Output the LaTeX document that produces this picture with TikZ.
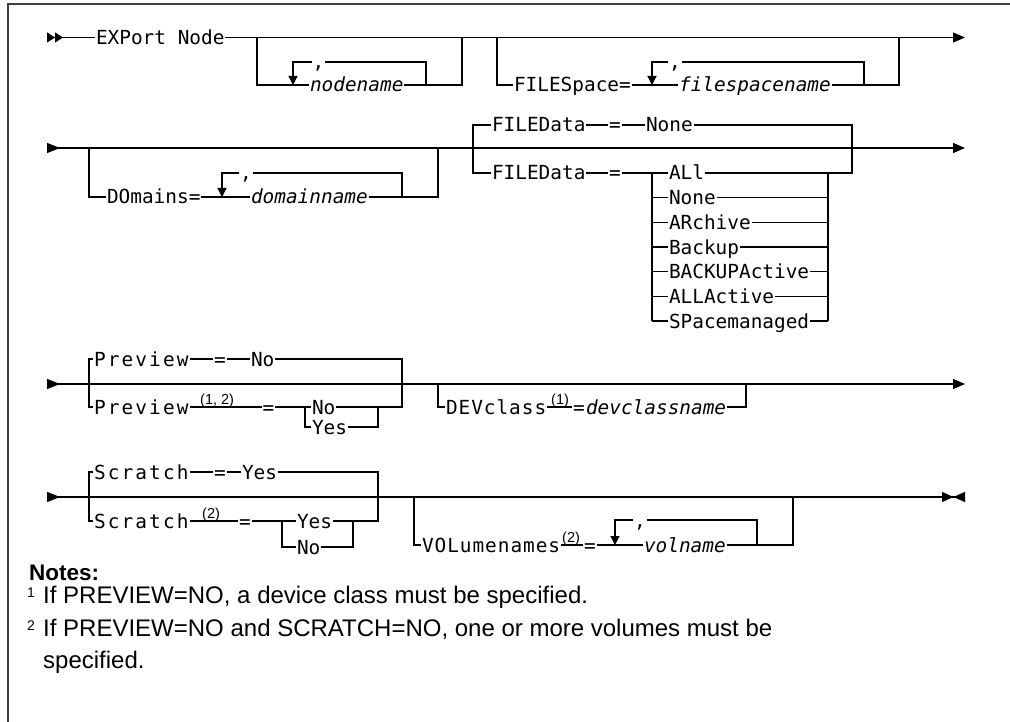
\documentclass[tikz,border=0pt]{standalone}
\usepackage{fontspec}
\setmainfont{Liberation Sans}
\newfontfamily\railfont{DejaVu Sans Mono}
\newfontfamily\railwidefont[LetterSpace=11]{DejaVu Sans Mono}
\newfontfamily\railmidfont[LetterSpace=5]{DejaVu Sans Mono}
\usetikzlibrary{arrows.meta}
\tikzset{
  rail/.style={line width=1.2pt},
  railkw/.style={anchor=west, inner sep=0pt, inner xsep=1pt, outer sep=0pt,
    text height=14pt, text depth=0pt, font=\railfont\fontsize{19.4}{20}\selectfont},
  railvar/.style={railkw, font=\railfont\itshape\fontsize{19.4}{20}\selectfont},
  railwide/.style={railkw, font=\railwidefont\fontsize{19.4}{20}\selectfont},
  railmid/.style={railkw, font=\railmidfont\fontsize{19.4}{20}\selectfont},
  fnref/.style={anchor=base west, inner sep=0pt, font=\fontsize{14.5}{15}\selectfont},
  rowline/.style={rail, {Triangle[reversed,length=13pt,width=10pt]}-{Triangle[length=12pt,width=10pt]}},
  repeatline/.style={rail, -{Triangle[length=9pt,width=9pt]}},
  notetext/.style={anchor=base west, inner sep=0pt, font=\fontsize{24}{28}\selectfont},
}
\begin{document}
\begin{tikzpicture}[x=1pt,y=-1pt]
\useasboundingbox (0,0) rectangle (1010,722);
\draw[line width=2pt, black!75] (1010,4) -- (8,4) -- (8,722);

% row 1
\node[railkw] (export) at (95,37.5) {EXPort Node};
\draw[rail, {Triangle[reversed,length=8pt,width=10pt]Triangle[reversed,length=8pt,width=10pt]}-] (47,37.5) -- (export.west);
\draw[rail, -{Triangle[length=12pt,width=10pt]}] (export.east) -- (965,37.5);

\node[railvar] (nodename) at (309,85) {nodename};
\node[railkw] (comma1) at (311.5,62) {,};
\draw[rail] (257,37.5) -- (257,85) -- (nodename.west);
\draw[rail] (nodename.east) -- (462,85) -- (462,37.5);
\draw[rail] (comma1.east) -- (426,62) -- (426,85);
\draw[repeatline] (comma1.west) -- (293,62) -- (293,85);

\node[railkw] (filespace) at (513,85) {FILESpace=};
\node[railvar] (fsname) at (678,85) {filespacename};
\node[railkw] (comma2) at (668,62) {,};
\draw[rail] (497,37.5) -- (497,85) -- (filespace.west);
\draw[rail] (filespace.east) -- (fsname.west);
\draw[rail] (fsname.east) -- (899,85) -- (899,37.5);
\draw[rail] (comma2.east) -- (864,62) -- (864,85);
\draw[repeatline] (comma2.west) -- (652,62) -- (652,85);

% row 2
\draw[rowline] (47,148) -- (965,148);

\node[railkw] (domains) at (106,197) {DOmains=};
\node[railvar] (domname) at (250,197) {domainname};
\node[railkw] (comma3) at (239,173) {,};
\draw[rail] (89,148) -- (89,197) -- (domains.west);
\draw[rail] (domains.east) -- (domname.west);
\draw[rail] (domname.east) -- (438,197) -- (438,148);
\draw[rail] (comma3.east) -- (402,173) -- (402,197);
\draw[repeatline] (comma3.west) -- (222,173) -- (222,197);

\node[railkw] (fdtop) at (491,125) {FILEData};
\node[railkw] (fdtopeq) at (608,125) {=};
\node[railkw] (fdtopnone) at (645,125) {None};
\node[railkw] (fdbot) at (491,173) {FILEData};
\node[railkw] (fdboteq) at (608,173) {=};
\foreach \name/\txt [count=\i from 0] in {fdall/ALl, fdnone/None, fdarch/ARchive,
    fdback/Backup, fdbact/BACKUPActive, fdaact/ALLActive, fdspace/SPacemanaged} {
  \node[railkw] (\name) at (668,173+24.67*\i) {\txt};
  \draw[rail] (652,173+24.67*\i) -- (\name.west);
  \draw[rail] (\name.east) -- (828,173+24.67*\i);
}
\draw[rail] (fdtop.west) -- (473,125) -- (473,173) -- (fdbot.west);
\draw[rail] (fdtop.east) -- (fdtopeq.west);
\draw[rail] (fdtopeq.east) -- (fdtopnone.west);
\draw[rail] (fdtopnone.east) -- (852,125) -- (852,173) -- (fdall.east);
\draw[rail] (fdbot.east) -- (fdboteq.west);
\draw[rail] (fdboteq.east) -- (fdall.west);
\draw[rail] (652,173) -- (652,321);
\draw[rail] (828,173) -- (828,321);

% row 3
\draw[rowline] (47,384) -- (965,384);

\node[railwide] (pvtop) at (93,359) {Preview};
\node[railkw] (pvtopeq) at (213,359) {=};
\node[railkw] (pvtopno) at (250,359) {No};
\node[railwide] (pvbot) at (93,407) {Preview};
\node[fnref] (pvnote) at (200,404) {(1, 2)};
\node[railkw] (pvboteq) at (261.5,407) {=};
\node[railkw] (pvno) at (311,407) {No};
\node[railkw] (pvyes) at (311,427) {Yes};
\draw[rail] (pvtop.west) -- (89,359) -- (89,407) -- (pvbot.west);
\draw[rail] (pvtop.east) -- (pvtopeq.west);
\draw[rail] (pvtopeq.east) -- (pvtopno.west);
\draw[rail] (pvtopno.east) -- (402,359) -- (402,407) -- (pvno.east);
\draw[rail] (pvbot.east) -- (pvboteq.west);
\draw[rail] (pvboteq.east) -- (pvno.west);
\draw[rail] (305,407) -- (305,427) -- (pvyes.west);
\draw[rail] (pvyes.east) -- (378,427) -- (378,407);

\node[railmid] (devclass) at (445,407) {DEVclass};
\node[fnref] (devnote) at (551,404) {(1)};
\node[railkw] (deveq) at (572,407) {=};
\node[railvar] (devname) at (585,407) {devclassname};
\draw[rail] (438,384) -- (438,407) -- (devclass.west);
\draw[rail] (devclass.east) -- (deveq.west);
\draw[rail] (devname.east) -- (746,407) -- (746,384);

% row 4
\draw[rail, {Triangle[reversed,length=13pt,width=10pt]}-{Triangle[length=11.5pt,width=10pt]Triangle[reversed,length=11.5pt,width=10pt]}] (47,497) -- (965,497);

\node[railwide] (sctop) at (93,472) {Scratch};
\node[railkw] (sctopeq) at (213,472) {=};
\node[railkw] (sctopyes) at (241,472) {Yes};
\node[railwide] (scbot) at (93,521) {Scratch};
\node[fnref] (scnote) at (202,518) {(2)};
\node[railkw] (scboteq) at (238,521) {=};
\node[railkw] (scyes) at (296,521) {Yes};
\node[railkw] (scno) at (296,547) {No};
\draw[rail] (sctop.west) -- (89,472) -- (89,521) -- (scbot.west);
\draw[rail] (sctop.east) -- (sctopeq.west);
\draw[rail] (sctopeq.east) -- (sctopyes.west);
\draw[rail] (sctopyes.east) -- (378,472) -- (378,521) -- (scyes.east);
\draw[rail] (scbot.east) -- (scboteq.west);
\draw[rail] (scboteq.east) -- (scyes.west);
\draw[rail] (282,521) -- (282,547) -- (scno.west);
\draw[rail] (scno.east) -- (353,547) -- (353,521);

\node[railmid] (volumes) at (421,545) {VOLumenames};
\node[fnref] (volnote) at (562,542) {(2)};
\node[railkw] (voleq) at (583,545) {=};
\node[railvar] (volname) at (643,545) {volname};
\node[railkw] (comma4) at (633,520) {,};
\draw[rail] (414,497) -- (414,545) -- (volumes.west);
\draw[rail] (volumes.east) -- (voleq.west);
\draw[rail] (voleq.east) -- (volname.west);
\draw[rail] (volname.east) -- (793,545) -- (793,497);
\draw[rail] (comma4.east) -- (757,520) -- (757,545);
\draw[repeatline] (comma4.west) -- (615,520) -- (615,545);

% notes
\node[notetext, font=\bfseries\fontsize{22.5}{26}\selectfont] (notes) at (29,580) {Notes:};
\node[fnref, font=\fontsize{14}{15}\selectfont] (mark1) at (27,597) {1};
\node[notetext] (note1) at (43,603) {If PREVIEW=NO, a device class must be specified.};
\node[fnref, font=\fontsize{14}{15}\selectfont] (mark2) at (27,630) {2};
\node[notetext] (note2) at (43,636) {If PREVIEW=NO and SCRATCH=NO, one or more volumes must be};
\node[notetext] (note2b) at (43,668) {specified.};
\end{tikzpicture}
\end{document}
